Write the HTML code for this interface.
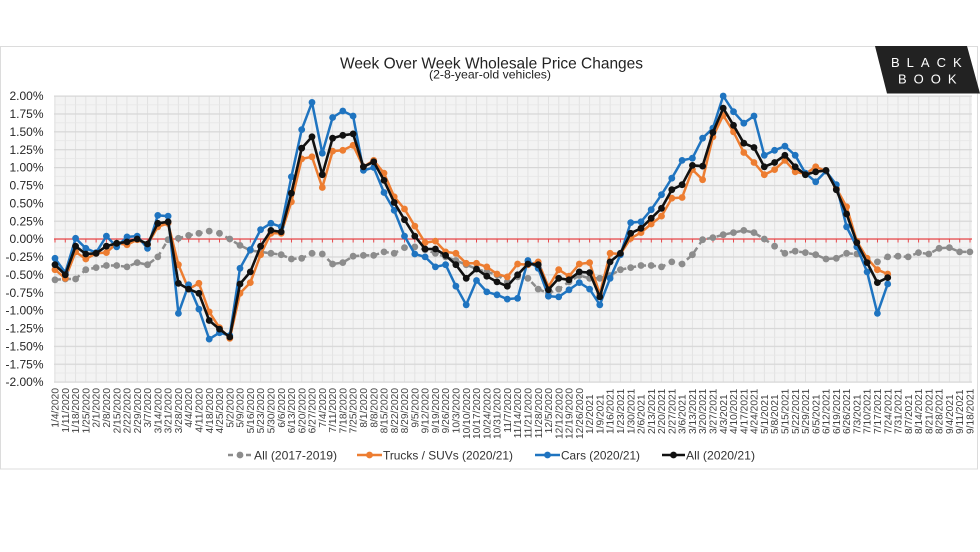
<!DOCTYPE html>
<html><head><meta charset="utf-8"><style>
html,body{margin:0;padding:0;background:#fff;}
svg{display:block;font-family:"Liberation Sans",Arial,sans-serif;}
</style></head><body>
<svg width="980" height="552" viewBox="0 0 980 552" xmlns="http://www.w3.org/2000/svg">
<defs>
<pattern id="vg" x="54.5" y="0" width="10.2809" height="552" patternUnits="userSpaceOnUse"><rect x="0" y="0" width="1" height="552" fill="#e2e2e2"/></pattern>
<pattern id="hm" x="0" y="95.5" width="980" height="17.875" patternUnits="userSpaceOnUse"><rect x="0" y="0" width="980" height="1.2" fill="#d6d6d6"/><rect x="0" y="8.94" width="980" height="0.8" fill="#e6e6e6"/></pattern>
<pattern id="rt" x="54.5" y="0" width="10.2809" height="552" patternUnits="userSpaceOnUse"><rect x="0" y="0" width="1" height="552" fill="#e8474a"/></pattern>
<marker id="mb" viewBox="-4 -4 8 8" markerWidth="8" markerHeight="8" markerUnits="userSpaceOnUse" refX="0" refY="0"><circle r="3.4" fill="#1f74c0"/></marker>
<marker id="mo" viewBox="-4 -4 8 8" markerWidth="8" markerHeight="8" markerUnits="userSpaceOnUse" refX="0" refY="0"><circle r="3.4" fill="#ed7d31"/></marker>
<marker id="mk" viewBox="-4 -4 8 8" markerWidth="8" markerHeight="8" markerUnits="userSpaceOnUse" refX="0" refY="0"><circle r="3.4" fill="#111"/></marker>
<marker id="mg" viewBox="-4 -4 8 8" markerWidth="8" markerHeight="8" markerUnits="userSpaceOnUse" refX="0" refY="0"><circle r="3.4" fill="#8c8c8c"/></marker>
</defs>
<!-- frame -->
<rect x="0.5" y="46.5" width="977" height="422.5" fill="#fff" stroke="#dcdcdc" stroke-width="1"/>
<!-- logo -->
<polygon points="875,46 967,46 980,93.5 887,93.5" fill="#222"/>
<text x="891" y="67" font-size="13" fill="#fff" letter-spacing="7">BLACK</text>
<text x="898" y="83.5" font-size="13" fill="#fff" letter-spacing="7">BOOK</text>
<!-- title -->
<text x="340" y="68.3" font-size="16" fill="#222" textLength="303" lengthAdjust="spacingAndGlyphs">Week Over Week Wholesale Price Changes</text>
<text x="429" y="78.5" font-size="12" fill="#222" textLength="122" lengthAdjust="spacingAndGlyphs">(2-8-year-old vehicles)</text>
<!-- plot area -->
<rect x="54" y="96" width="918" height="286" fill="#f3f3f3"/>
<rect x="54" y="96" width="918" height="286" fill="url(#vg)"/>
<rect x="54" y="95" width="918" height="288" fill="url(#hm)"/>
<line x1="54" y1="239" x2="972" y2="239" stroke="#e8474a" stroke-width="1.3"/>
<rect x="54" y="239" width="918" height="3.5" fill="url(#rt)"/>
<!-- y labels -->
<g font-size="12" fill="#262626" text-anchor="end">
<text x="43.5" y="100.2">2.00%</text>
<text x="43.5" y="118.1">1.75%</text>
<text x="43.5" y="136">1.50%</text>
<text x="43.5" y="153.8">1.25%</text>
<text x="43.5" y="171.7">1.00%</text>
<text x="43.5" y="189.6">0.75%</text>
<text x="43.5" y="207.5">0.50%</text>
<text x="43.5" y="225.3">0.25%</text>
<text x="43.5" y="243.2">0.00%</text>
<text x="43.5" y="261.1">-0.25%</text>
<text x="43.5" y="279">-0.50%</text>
<text x="43.5" y="296.8">-0.75%</text>
<text x="43.5" y="314.7">-1.00%</text>
<text x="43.5" y="332.6">-1.25%</text>
<text x="43.5" y="350.5">-1.50%</text>
<text x="43.5" y="368.3">-1.75%</text>
<text x="43.5" y="386.2">-2.00%</text>
</g>
<!-- series -->
<polyline fill="none" stroke="#8c8c8c" stroke-width="2.5" stroke-dasharray="6,4" marker-start="url(#mg)" marker-mid="url(#mg)" marker-end="url(#mg)" points="55,279.8 65.3,279 75.6,279 85.8,269.7 96.1,267.6 106.4,265.5 116.7,265.5 127,266.9 137.2,262.6 147.5,264.7 157.8,256.9 168.1,239.7 178.4,238.3 188.6,235.4 198.9,233.3 209.2,231.1 219.5,233.3 229.8,239 240,245.4 250.3,250.4 260.6,251.9 270.9,253.3 281.2,254.7 291.4,259 301.7,258.3 312,253.3 322.3,254 332.6,264 342.8,262.6 353.1,256.2 363.4,255.4 373.7,255.4 384,251.9 394.2,253.3 404.5,247.6 414.8,246.9 425.1,249.7 435.4,253.3 445.6,256.9 455.9,260.5 466.2,264.7 476.5,269 486.8,271.9 497,274.8 507.3,281.9 517.6,276.9 527.9,278.3 538.2,289.1 548.4,293.3 558.7,289.1 569,281.9 579.3,275.5 589.6,278.3 599.8,278.3 610.1,275.5 620.4,269.7 630.7,267.6 641,265.5 651.2,265.5 661.5,266.9 671.8,261.9 682.1,264 692.4,254.7 702.6,239.7 712.9,237.6 723.2,234.7 733.5,232.6 743.8,230.4 754,232.6 764.3,239 774.6,246.2 784.9,253.3 795.2,251.2 805.4,252.6 815.7,254.7 826,259 836.3,258.3 846.6,253.3 856.8,254 867.1,260.5 877.4,261.9 887.7,256.9 898,256.2 908.2,256.9 918.5,252.6 928.8,254 939.1,248.3 949.4,247.6 959.6,251.9 969.9,251.9"/>
<polyline fill="none" stroke="#ed7d31" stroke-width="2.5" stroke-linejoin="round" marker-start="url(#mo)" marker-mid="url(#mo)" marker-end="url(#mo)" points="55,269.7 65.3,278.3 75.6,251.9 85.8,259 96.1,253.3 106.4,252.6 116.7,243.3 127,244.7 137.2,239.7 147.5,244.7 157.8,226.8 168.1,223.3 178.4,264.7 188.6,289.1 198.9,283.3 209.2,311.9 219.5,327.7 229.8,338.4 240,293.3 250.3,282.6 260.6,254.7 270.9,233.3 281.2,233.3 291.4,201.8 301.7,158.9 312,156.8 322.3,187.5 332.6,151.1 342.8,150.3 353.1,145.3 363.4,166.8 373.7,160.4 384,173.2 394.2,196.8 404.5,209 414.8,226.1 425.1,242.6 435.4,241.1 445.6,251.9 455.9,253.3 466.2,263.3 476.5,263.3 486.8,266.9 497,274 507.3,276.9 517.6,264 527.9,264.7 538.2,261.9 548.4,286.9 558.7,269.7 569,276.2 579.3,264 589.6,262.6 599.8,294.1 610.1,253.3 620.4,254 630.7,238.3 641,232.6 651.2,224 661.5,216.1 671.8,198.2 682.1,197.5 692.4,169.6 702.6,179.7 712.9,136.8 723.2,115.3 733.5,131.8 743.8,152.5 754,162.5 764.3,174.7 774.6,169.6 784.9,160.4 795.2,171.8 805.4,173.9 815.7,166.8 826,171.1 836.3,188.2 846.6,206.8 856.8,241.1 867.1,258.3 877.4,269.7 887.7,274"/>
<polyline fill="none" stroke="#1f74c0" stroke-width="2.5" stroke-linejoin="round" marker-start="url(#mb)" marker-mid="url(#mb)" marker-end="url(#mb)" points="55,258.3 65.3,272.6 75.6,238.3 85.8,248.3 96.1,252.6 106.4,236.1 116.7,246.9 127,236.9 137.2,236.1 147.5,248.3 157.8,215.4 168.1,216.1 178.4,313.4 188.6,284.8 198.9,309.1 209.2,339.1 219.5,332.7 229.8,335.5 240,268.3 250.3,249.7 260.6,229.7 270.9,223.3 281.2,226.8 291.4,176.8 301.7,129.6 312,102.4 322.3,153.2 332.6,117.5 342.8,111 353.1,116 363.4,170.4 373.7,167.5 384,192.5 394.2,210.4 404.5,236.1 414.8,254 425.1,256.9 435.4,266.9 445.6,264.7 455.9,286.2 466.2,304.8 476.5,280.5 486.8,291.9 497,294.8 507.3,299.1 517.6,298.3 527.9,260.5 538.2,268.3 548.4,296.2 558.7,296.9 569,289.8 579.3,282.6 589.6,289.1 599.8,304.8 610.1,278.3 620.4,254.7 630.7,222.6 641,221.8 651.2,209.7 661.5,194.7 671.8,178.2 682.1,160.4 692.4,158.2 702.6,138.2 712.9,128.2 723.2,96 733.5,111.7 743.8,123.2 754,116 764.3,155.3 774.6,150.3 784.9,146.1 795.2,155.3 805.4,173.2 815.7,181.8 826,171.1 836.3,184.7 846.6,226.8 856.8,246.9 867.1,271.9 877.4,313.4 887.7,284"/>
<polyline fill="none" stroke="#111" stroke-width="2.6" stroke-linejoin="round" marker-start="url(#mk)" marker-mid="url(#mk)" marker-end="url(#mk)" points="55,264.7 65.3,274.8 75.6,246.2 85.8,254 96.1,253.3 106.4,246.2 116.7,243.3 127,241.9 137.2,239 147.5,244 157.8,223.3 168.1,221.8 178.4,283.3 188.6,289.1 198.9,293.3 209.2,320.5 219.5,329.1 229.8,337 240,284 250.3,271.9 260.6,246.2 270.9,230.4 281.2,231.9 291.4,193.2 301.7,148.2 312,136.8 322.3,174.7 332.6,138.2 342.8,135.3 353.1,133.9 363.4,166.8 373.7,161.8 384,180.4 394.2,202.5 404.5,219.7 414.8,236.1 425.1,249 435.4,249 445.6,255.4 455.9,264.7 466.2,278.3 476.5,269 486.8,276.2 497,281.9 507.3,286.2 517.6,274.8 527.9,264 538.2,264.7 548.4,289.8 558.7,278.3 569,279.8 579.3,271.9 589.6,272.6 599.8,296.9 610.1,261.9 620.4,253.3 630.7,233.3 641,228.3 651.2,218.3 661.5,208.3 671.8,189.7 682.1,184.7 692.4,165.4 702.6,166.1 712.9,132.5 723.2,108.2 733.5,125.3 743.8,143.2 754,147.5 764.3,166.8 774.6,162.5 784.9,155.3 795.2,166.8 805.4,174.7 815.7,171.8 826,170.4 836.3,189.7 846.6,214 856.8,242.6 867.1,262.6 877.4,282.6 887.7,277.6"/>
<!-- x labels 2020 (top aligned) -->
<g font-size="10.2" fill="#404040" text-anchor="end">
<text transform="translate(58.6,388) rotate(-90)">1/4/2020</text>
<text transform="translate(68.9,388) rotate(-90)">1/11/2020</text>
<text transform="translate(79.2,388) rotate(-90)">1/18/2020</text>
<text transform="translate(89.4,388) rotate(-90)">1/25/2020</text>
<text transform="translate(99.7,388) rotate(-90)">2/1/2020</text>
<text transform="translate(110,388) rotate(-90)">2/8/2020</text>
<text transform="translate(120.3,388) rotate(-90)">2/15/2020</text>
<text transform="translate(130.6,388) rotate(-90)">2/22/2020</text>
<text transform="translate(140.8,388) rotate(-90)">2/29/2020</text>
<text transform="translate(151.1,388) rotate(-90)">3/7/2020</text>
<text transform="translate(161.4,388) rotate(-90)">3/14/2020</text>
<text transform="translate(171.7,388) rotate(-90)">3/21/2020</text>
<text transform="translate(182,388) rotate(-90)">3/28/2020</text>
<text transform="translate(192.2,388) rotate(-90)">4/4/2020</text>
<text transform="translate(202.5,388) rotate(-90)">4/11/2020</text>
<text transform="translate(212.8,388) rotate(-90)">4/18/2020</text>
<text transform="translate(223.1,388) rotate(-90)">4/25/2020</text>
<text transform="translate(233.4,388) rotate(-90)">5/2/2020</text>
<text transform="translate(243.6,388) rotate(-90)">5/9/2020</text>
<text transform="translate(253.9,388) rotate(-90)">5/16/2020</text>
<text transform="translate(264.2,388) rotate(-90)">5/23/2020</text>
<text transform="translate(274.5,388) rotate(-90)">5/30/2020</text>
<text transform="translate(284.8,388) rotate(-90)">6/6/2020</text>
<text transform="translate(295,388) rotate(-90)">6/13/2020</text>
<text transform="translate(305.3,388) rotate(-90)">6/20/2020</text>
<text transform="translate(315.6,388) rotate(-90)">6/27/2020</text>
<text transform="translate(325.9,388) rotate(-90)">7/4/2020</text>
<text transform="translate(336.2,388) rotate(-90)">7/11/2020</text>
<text transform="translate(346.4,388) rotate(-90)">7/18/2020</text>
<text transform="translate(356.7,388) rotate(-90)">7/25/2020</text>
<text transform="translate(367,388) rotate(-90)">8/1/2020</text>
<text transform="translate(377.3,388) rotate(-90)">8/8/2020</text>
<text transform="translate(387.6,388) rotate(-90)">8/15/2020</text>
<text transform="translate(397.8,388) rotate(-90)">8/22/2020</text>
<text transform="translate(408.1,388) rotate(-90)">8/29/2020</text>
<text transform="translate(418.4,388) rotate(-90)">9/5/2020</text>
<text transform="translate(428.7,388) rotate(-90)">9/12/2020</text>
<text transform="translate(439,388) rotate(-90)">9/19/2020</text>
<text transform="translate(449.2,388) rotate(-90)">9/26/2020</text>
<text transform="translate(459.5,388) rotate(-90)">10/3/2020</text>
<text transform="translate(469.8,388) rotate(-90)">10/10/2020</text>
<text transform="translate(480.1,388) rotate(-90)">10/17/2020</text>
<text transform="translate(490.4,388) rotate(-90)">10/24/2020</text>
<text transform="translate(500.6,388) rotate(-90)">10/31/2020</text>
<text transform="translate(510.9,388) rotate(-90)">11/7/2020</text>
<text transform="translate(521.2,388) rotate(-90)">11/14/2020</text>
<text transform="translate(531.5,388) rotate(-90)">11/21/2020</text>
<text transform="translate(541.8,388) rotate(-90)">11/28/2020</text>
<text transform="translate(552,388) rotate(-90)">12/5/2020</text>
<text transform="translate(562.3,388) rotate(-90)">12/12/2020</text>
<text transform="translate(572.6,388) rotate(-90)">12/19/2020</text>
<text transform="translate(582.9,388) rotate(-90)">12/26/2020</text>
</g>
<!-- x labels 2021 (bottom aligned) -->
<g font-size="10.2" fill="#404040" text-anchor="start">
<text transform="translate(593.2,434) rotate(-90)">1/2/2021</text>
<text transform="translate(603.4,434) rotate(-90)">1/9/2021</text>
<text transform="translate(613.7,434) rotate(-90)">1/16/2021</text>
<text transform="translate(624,434) rotate(-90)">1/23/2021</text>
<text transform="translate(634.3,434) rotate(-90)">1/30/2021</text>
<text transform="translate(644.6,434) rotate(-90)">2/6/2021</text>
<text transform="translate(654.8,434) rotate(-90)">2/13/2021</text>
<text transform="translate(665.1,434) rotate(-90)">2/20/2021</text>
<text transform="translate(675.4,434) rotate(-90)">2/27/2021</text>
<text transform="translate(685.7,434) rotate(-90)">3/6/2021</text>
<text transform="translate(696,434) rotate(-90)">3/13/2021</text>
<text transform="translate(706.2,434) rotate(-90)">3/20/2021</text>
<text transform="translate(716.5,434) rotate(-90)">3/27/2021</text>
<text transform="translate(726.8,434) rotate(-90)">4/3/2021</text>
<text transform="translate(737.1,434) rotate(-90)">4/10/2021</text>
<text transform="translate(747.4,434) rotate(-90)">4/17/2021</text>
<text transform="translate(757.6,434) rotate(-90)">4/24/2021</text>
<text transform="translate(767.9,434) rotate(-90)">5/1/2021</text>
<text transform="translate(778.2,434) rotate(-90)">5/8/2021</text>
<text transform="translate(788.5,434) rotate(-90)">5/15/2021</text>
<text transform="translate(798.8,434) rotate(-90)">5/22/2021</text>
<text transform="translate(809,434) rotate(-90)">5/29/2021</text>
<text transform="translate(819.3,434) rotate(-90)">6/5/2021</text>
<text transform="translate(829.6,434) rotate(-90)">6/12/2021</text>
<text transform="translate(839.9,434) rotate(-90)">6/19/2021</text>
<text transform="translate(850.2,434) rotate(-90)">6/26/2021</text>
<text transform="translate(860.4,434) rotate(-90)">7/3/2021</text>
<text transform="translate(870.7,434) rotate(-90)">7/10/2021</text>
<text transform="translate(881,434) rotate(-90)">7/17/2021</text>
<text transform="translate(891.3,434) rotate(-90)">7/24/2021</text>
<text transform="translate(901.6,434) rotate(-90)">7/31/2021</text>
<text transform="translate(911.8,434) rotate(-90)">8/7/2021</text>
<text transform="translate(922.1,434) rotate(-90)">8/14/2021</text>
<text transform="translate(932.4,434) rotate(-90)">8/21/2021</text>
<text transform="translate(942.7,434) rotate(-90)">8/28/2021</text>
<text transform="translate(953,434) rotate(-90)">9/4/2021</text>
<text transform="translate(963.2,434) rotate(-90)">9/11/2021</text>
<text transform="translate(973.5,434) rotate(-90)">9/18/2021</text>
</g>
<!-- legend -->
<g font-size="12" fill="#333">
<line x1="228" y1="455" x2="252" y2="455" stroke="#8c8c8c" stroke-width="2.5" stroke-dasharray="5,4"/>
<circle cx="240" cy="455" r="3.4" fill="#8c8c8c"/>
<text x="254" y="459.3" textLength="83" lengthAdjust="spacingAndGlyphs">All (2017-2019)</text>
<line x1="357" y1="455" x2="382" y2="455" stroke="#ed7d31" stroke-width="2.5"/>
<circle cx="369.5" cy="455" r="3.4" fill="#ed7d31"/>
<text x="383" y="459.3" textLength="130" lengthAdjust="spacingAndGlyphs">Trucks / SUVs (2020/21)</text>
<line x1="535" y1="455" x2="560" y2="455" stroke="#1f74c0" stroke-width="2.5"/>
<circle cx="547.5" cy="455" r="3.4" fill="#1f74c0"/>
<text x="561" y="459.3" textLength="79" lengthAdjust="spacingAndGlyphs">Cars (2020/21)</text>
<line x1="662" y1="455" x2="685" y2="455" stroke="#111" stroke-width="2.5"/>
<circle cx="673.5" cy="455" r="3.4" fill="#111"/>
<text x="686" y="459.3" textLength="69" lengthAdjust="spacingAndGlyphs">All (2020/21)</text>
</g>
</svg>
</body></html>
